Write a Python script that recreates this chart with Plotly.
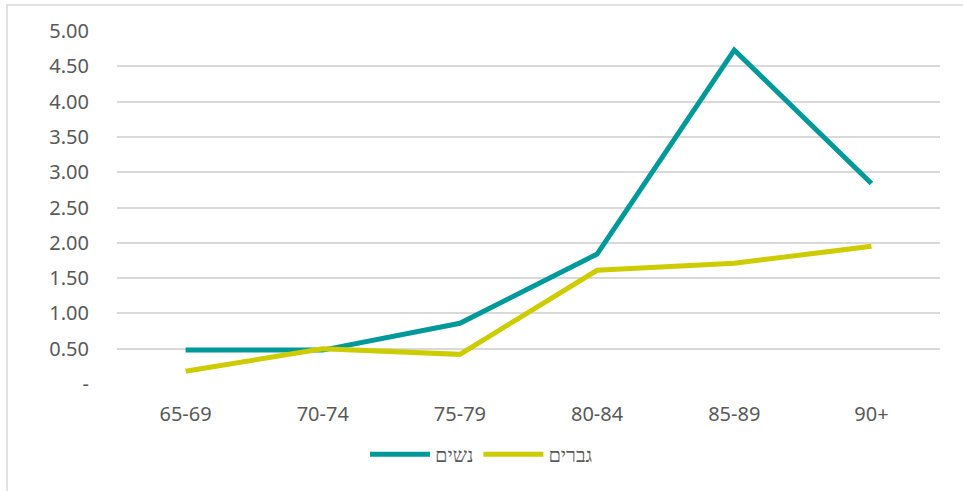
import plotly.graph_objects as go

categories = ["65-69", "70-74", "75-79", "80-84", "85-89", "90+"]
women = [0.48, 0.48, 0.86, 1.84, 4.73, 2.84]
men = [0.18, 0.50, 0.42, 1.61, 1.71, 1.95]
women_name = "נשים"
men_name = "גברים"
y_tickvals = [0, 0.5, 1, 1.5, 2, 2.5, 3, 3.5, 4, 4.5, 5]
y_ticktext = ["-", "0.50", "1.00", "1.50", "2.00", "2.50", "3.00", "3.50", "4.00", "4.50", "5.00"]

fig = go.Figure()
fig.add_trace(go.Scatter(x=categories, y=women, name=women_name, mode="lines",
                         line=dict(color="#009999", width=5)))
fig.add_trace(go.Scatter(x=categories, y=men, name=men_name, mode="lines",
                         line=dict(color="#CCCC00", width=5)))

W, H = 963, 491
L, R, T, B = 117, 23, 31, 107
pw, ph = W - L - R, H - T - B

fig.update_layout(
    width=W, height=H,
    margin=dict(l=L, r=R, t=T, b=B, autoexpand=False),
    paper_bgcolor="white", plot_bgcolor="white",
    font=dict(family="Noto Sans", size=20, color="#595959"),
    showlegend=True,
    legend=dict(orientation="h", x=0.5, xref="container", xanchor="center",
                y=0.075, yref="container", yanchor="middle", font=dict(size=20, color="#595959"),
                itemwidth=60, tracegroupgap=0),
    xaxis=dict(type="category", range=[-0.5, 5.5], showgrid=False, zeroline=False,
               showline=False, ticks="", ticklabelstandoff=16, tickfont=dict(size=20),
               automargin=False),
    yaxis=dict(range=[0, 5], tickvals=y_tickvals, ticktext=y_ticktext, showgrid=True,
               gridcolor="#D9D9D9", gridwidth=1.5, zeroline=False, showline=False,
               ticks="", ticklabelstandoff=27, tickfont=dict(size=20), automargin=False),
    shapes=[dict(type="rect", xref="paper", yref="paper",
                 x0=(7 - L) / pw, x1=(W + 10 - L) / pw,
                 y0=-(H + 10 - T - ph) / ph, y1=(ph + T - 5) / ph,
                 line=dict(color="#D9D9D9", width=1.5), fillcolor="rgba(0,0,0,0)", layer="below")],
)

fig.write_html("out.html")
